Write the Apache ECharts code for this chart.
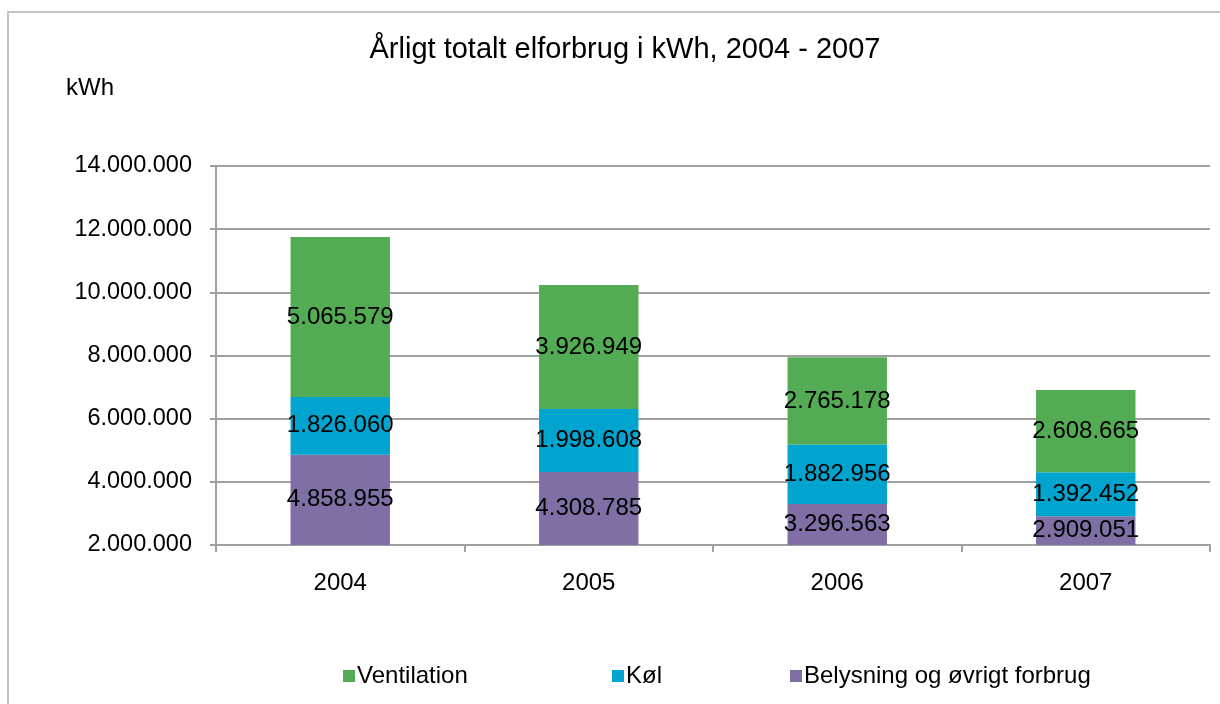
<!DOCTYPE html>
<html>
<head>
<meta charset="utf-8">
<title>Årligt totalt elforbrug</title>
<script src="https://cdn.jsdelivr.net/npm/echarts@6/dist/echarts.min.js"></script>
<style>
  html, body { margin: 0; padding: 0; background: #fff; }
  #chart-container { width: 1220px; height: 704px; }
</style>
</head>
<body>
<div id="chart-container"></div>
<script>
// data
const years = ['2004', '2005', '2006', '2007'];
const belysning = [4858955, 4308785, 3296563, 2909051];
const koel = [1826060, 1998608, 1882956, 1392452];
const ventilation = [5065579, 3926949, 2765178, 2608665];
const yTicks = [2000000, 4000000, 6000000, 8000000, 10000000, 12000000, 14000000];

const FONT = '"Liberation Sans", Arial, sans-serif';

// 14000000 -> 14.000.000
function dk(v) {
  return String(Math.round(v)).replace(/\B(?=(\d{3})+(?!\d))/g, '.');
}

function barSeries(name, data, color) {
  return {
    name: name,
    type: 'bar',
    stack: 'total',
    barWidth: '40%',
    data: data,
    itemStyle: { color: color },
    label: {
      show: true,
      position: 'inside',
      color: '#000',
      fontFamily: FONT,
      fontSize: 24,
      formatter: p => dk(p.value)
    }
  };
}

function legendAt(name, left) {
  return {
    data: [name],
    left: left,
    top: 664,
    padding: 0,
    itemWidth: 12,
    itemHeight: 12,
    itemGap: 0,
    icon: 'rect',
    textStyle: { fontFamily: FONT, fontSize: 24, color: '#000', padding: [0, 0, 0, -3] }
  };
}

const chartOption = {
  animation: false,
  backgroundColor: '#fff',
  title: {
    text: 'Årligt totalt elforbrug i kWh, 2004 - 2007',
    left: 625,
    textAlign: 'center',
    top: 35,
    padding: 0,
    textStyle: { fontFamily: FONT, fontSize: 29, fontWeight: 'normal', color: '#000' }
  },
  graphic: [
    {
      type: 'rect',
      shape: { x: 8, y: 12, width: 1400, height: 900 },
      style: { fill: 'none', stroke: '#c4c4c4', lineWidth: 2 },
      silent: true
    },
    {
      type: 'text',
      left: 66,
      top: 76,
      style: { text: 'kWh', fontFamily: FONT, fontSize: 24, fill: '#000' }
    }
  ],
  legend: [
    legendAt('Ventilation', 343),
    legendAt('Køl', 612),
    legendAt('Belysning og øvrigt forbrug', 790)
  ],
  grid: { left: 216, right: 10, top: 166, bottom: 159 },
  xAxis: {
    type: 'category',
    data: years,
    axisLine: { lineStyle: { color: '#a0a0a0', width: 2 } },
    axisTick: { show: true, length: 7, lineStyle: { color: '#a0a0a0', width: 2 } },
    axisLabel: { color: '#000', fontFamily: FONT, fontSize: 24, margin: 26 }
  },
  yAxis: {
    type: 'value',
    min: yTicks[0],
    max: yTicks[yTicks.length - 1],
    interval: 2000000,
    axisLine: { show: true, lineStyle: { color: '#a0a0a0', width: 2 } },
    axisTick: { show: true, length: 6, lineStyle: { color: '#a0a0a0', width: 2 } },
    splitLine: { lineStyle: { color: '#a0a0a0', width: 2 } },
    axisLabel: { color: '#000', fontFamily: FONT, fontSize: 23.5, margin: 24, formatter: dk }
  },
  series: [
    barSeries('Belysning og øvrigt forbrug', belysning, '#7f6fa4'),
    barSeries('Køl', koel, '#00a4ce'),
    barSeries('Ventilation', ventilation, '#53ac53')
  ]
};

const chartContainer = document.getElementById('chart-container');
const chart = echarts.init(chartContainer);
chart.setOption(chartOption);
</script>
</body>
</html>
